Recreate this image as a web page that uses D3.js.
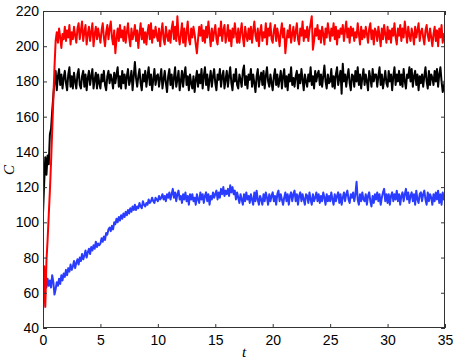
<!DOCTYPE html>
<html><head><meta charset="utf-8">
<script src="https://cdn.jsdelivr.net/npm/d3@7"></script>
<style>
body{margin:0;background:#fff;}
svg{display:block;}
.tick text{font-family:"Liberation Sans",Arial,sans-serif;font-size:14px;fill:#000;}
</style></head>
<body>
<svg id="chart" width="457" height="360"></svg>
<script>
// time step between samples (t from 0 to 35)
const dt = 0.1;
const xTicks = [0,5,10,15,20,25,30,35];
const yTicks = [40,60,80,100,120,140,160,180,200,220];

const redValues = [
52,75,52,78,90,104,118,134,152,170,
188,203,208,202,210,205,199,207,204,211,
203,209,205,212,201,208,204,211,206,202,
210,213,204,209,214,203,208,212,201,207,
211,203,208,213,200,207,211,204,210,206,
202,209,213,205,200,208,212,204,210,214,
205,201,209,196,204,210,203,212,205,209,
203,211,202,208,213,205,200,210,204,207,
212,203,209,199,207,213,204,210,202,208,
201,208,212,204,213,202,209,205,211,206,
203,210,200,208,213,204,201,211,206,203,
209,202,210,214,204,211,203,217,206,201,
207,213,202,210,200,208,214,204,201,210,
205,211,207,201,196,204,211,206,212,203,
209,202,211,205,214,207,200,210,203,208,
212,204,201,210,206,214,203,209,212,202,
206,212,203,209,200,210,205,213,207,202,
210,202,208,213,205,200,211,206,203,210,
204,211,202,209,214,206,203,210,200,208,
212,203,208,205,213,201,210,206,213,204,
202,209,212,203,210,206,200,208,213,205,
210,196,203,209,205,212,202,207,211,203,
208,213,204,201,210,206,214,203,209,205,
211,203,209,213,217,198,203,210,206,212,
204,209,202,211,207,201,210,205,213,208,
203,210,206,213,204,211,201,209,205,210,
207,212,203,209,214,205,210,202,211,206,
210,203,208,205,213,207,201,211,204,209,
205,211,207,202,210,213,204,209,201,210,
208,203,211,206,200,210,204,212,207,202,
211,204,209,202,210,206,213,205,201,210,
206,212,203,210,205,214,208,202,211,206,
203,210,207,201,211,205,209,213,203,208,
210,205,201,209,212,206,203,210,205,200,
207,211,203,209,200,210,205,212,202,207,
205];

const blackValues = [
105,122,137,127,138,133,150,153,163,172,
180,186,175,183,187,178,184,176,182,186,
179,175,184,188,177,183,176,185,180,176,
184,187,178,176,183,186,177,184,175,182,
186,178,183,187,176,181,185,176,184,179,
176,184,180,186,178,175,183,186,179,184,
181,176,185,179,184,188,177,183,176,186,
179,184,176,183,187,178,181,186,175,183,
191,182,177,183,187,179,175,184,180,186,
177,183,188,178,184,175,181,187,178,183,
184,177,182,187,176,181,186,179,174,183,
187,178,184,176,182,188,177,181,186,175,
180,186,177,184,188,178,183,175,184,179,
176,183,174,181,186,177,184,179,187,176,
183,188,178,184,175,181,186,177,183,187,
179,175,184,181,187,177,183,186,176,181,
186,177,183,188,179,175,184,180,187,178,
176,184,181,177,186,189,178,183,176,184,
181,187,177,184,179,174,183,187,177,182,
185,178,186,176,183,188,180,177,184,179,
175,183,187,178,184,177,181,186,176,183,
187,177,183,175,184,180,188,178,182,177,
183,186,176,184,179,187,181,175,184,180,
177,184,180,188,178,183,176,186,180,184,
186,178,184,177,183,189,180,176,184,179,
180,187,177,183,176,184,188,178,182,186,
173,190,180,184,177,183,187,179,175,184,
183,177,186,180,188,178,184,176,182,187,
178,184,180,175,186,182,177,187,180,184,
184,177,183,188,178,184,176,181,186,179,
177,186,180,184,175,183,188,178,184,180,
186,178,184,177,187,180,176,184,182,188,
180,187,177,183,186,178,184,175,183,179,
184,177,183,188,180,176,186,178,184,182,
178,186,180,187,177,184,188,180,174,177,
181];

const blueValues = [
50,59,66,63,68,64,67,63,70,66,
59,62,66,64,68,65,70,67,71,69,
73,70,74,72,76,73,75,78,74,77,
79,76,80,78,82,79,81,84,80,83,
85,82,86,84,87,85,89,86,88,87,
88,91,89,92,90,94,93,96,97,95,
98,96,100,99,102,100,103,101,104,102,
105,103,106,104,107,105,108,106,109,107,
110,107,109,108,111,109,108,112,110,109,
111,110,113,111,112,114,112,111,114,113,
112,115,113,114,116,113,115,112,116,114,
117,113,116,119,114,117,112,116,118,113,
115,111,116,113,117,112,115,110,116,113,
116,112,114,110,116,113,111,117,113,116,
111,115,117,112,116,110,115,113,117,114,
116,118,113,117,114,119,116,120,115,118,
116,119,115,121,117,120,116,118,113,117,
114,111,116,113,110,116,112,117,113,115,
111,116,113,110,117,112,118,113,110,115,
113,110,116,112,117,114,110,116,112,115,
117,112,115,110,116,118,112,116,113,110,
114,117,112,116,110,115,117,112,116,118,
112,116,110,115,117,112,116,113,110,116,
115,111,117,113,110,116,112,114,117,112,
116,111,115,112,117,114,110,116,112,115,
112,117,113,110,116,112,115,117,111,116,
110,114,117,112,116,118,113,111,116,114,
117,112,116,123,113,110,116,112,117,113,
112,116,110,115,117,112,109,115,111,116,
113,117,112,116,110,114,117,119,112,116,
111,116,110,115,117,112,116,113,118,112,
116,110,115,117,112,116,119,113,117,111,
115,117,112,116,110,118,113,111,116,117,
112,116,118,113,110,117,112,116,114,110,
116,112,117,113,118,111,116,110,117,113,
115];

const series = [
  {name:"black", values: blackValues, color:"#000000"},
  {name:"blue",  values: blueValues,  color:"#2a3cff"},
  {name:"red",   values: redValues,   color:"#ff0000"}
];

const W = 457, H = 360;
const m = {top:11, right:12, bottom:32, left:43};
const svg = d3.select("#chart");
const x = d3.scaleLinear().domain([0,35]).range([m.left, W-m.right]);
const y = d3.scaleLinear().domain([40,220]).range([H-m.bottom, m.top]);

svg.append("defs").append("clipPath").attr("id","clip")
  .append("rect").attr("x",m.left).attr("y",m.top)
  .attr("width",W-m.left-m.right).attr("height",H-m.top-m.bottom);

const line = d3.line().x((d,i)=>x(i*dt)).y(d=>y(d));
const g = svg.append("g").attr("clip-path","url(#clip)");
series.forEach(s=>{
  g.append("path").datum(s.values)
   .attr("d",line).attr("fill","none")
   .attr("stroke",s.color).attr("stroke-width",2)
   .attr("stroke-linejoin","round");
});

const axCol = "#333";
function styleAxis(sel){
  sel.select(".domain").remove();
  sel.selectAll(".tick line").attr("stroke",axCol);
}
svg.append("g").attr("transform",`translate(0,${H-m.bottom})`)
  .call(d3.axisBottom(x).tickValues(xTicks).tickFormat(d3.format("d")).tickSizeInner(-4).tickSizeOuter(0).tickPadding(7))
  .call(styleAxis);
svg.append("g").attr("transform",`translate(0,${m.top})`)
  .call(d3.axisTop(x).tickValues(xTicks).tickFormat("").tickSizeInner(-4).tickSizeOuter(0))
  .call(styleAxis);
svg.append("g").attr("transform",`translate(${m.left},0)`)
  .call(d3.axisLeft(y).tickValues(yTicks).tickFormat(d3.format("d")).tickSizeInner(-4).tickSizeOuter(0).tickPadding(4))
  .call(styleAxis);
svg.append("g").attr("transform",`translate(${W-m.right},0)`)
  .call(d3.axisRight(y).tickValues(yTicks).tickFormat("").tickSizeInner(-4).tickSizeOuter(0))
  .call(styleAxis);

svg.append("rect").attr("x",m.left+0.5).attr("y",m.top+0.5)
  .attr("width",W-m.left-m.right-1).attr("height",H-m.top-m.bottom-1)
  .attr("fill","none").attr("stroke",axCol).attr("stroke-width",1);

svg.append("text").attr("x",(m.left+W-m.right)/2).attr("y",357)
  .attr("text-anchor","middle").attr("font-family","Liberation Serif,serif")
  .attr("font-style","italic").attr("font-size",15).text("t");
svg.append("text").attr("transform","translate(14,170) rotate(-90)")
  .attr("text-anchor","middle").attr("font-family","Liberation Serif,serif")
  .attr("font-style","italic").attr("font-size",15).text("C");
</script>
</body></html>
